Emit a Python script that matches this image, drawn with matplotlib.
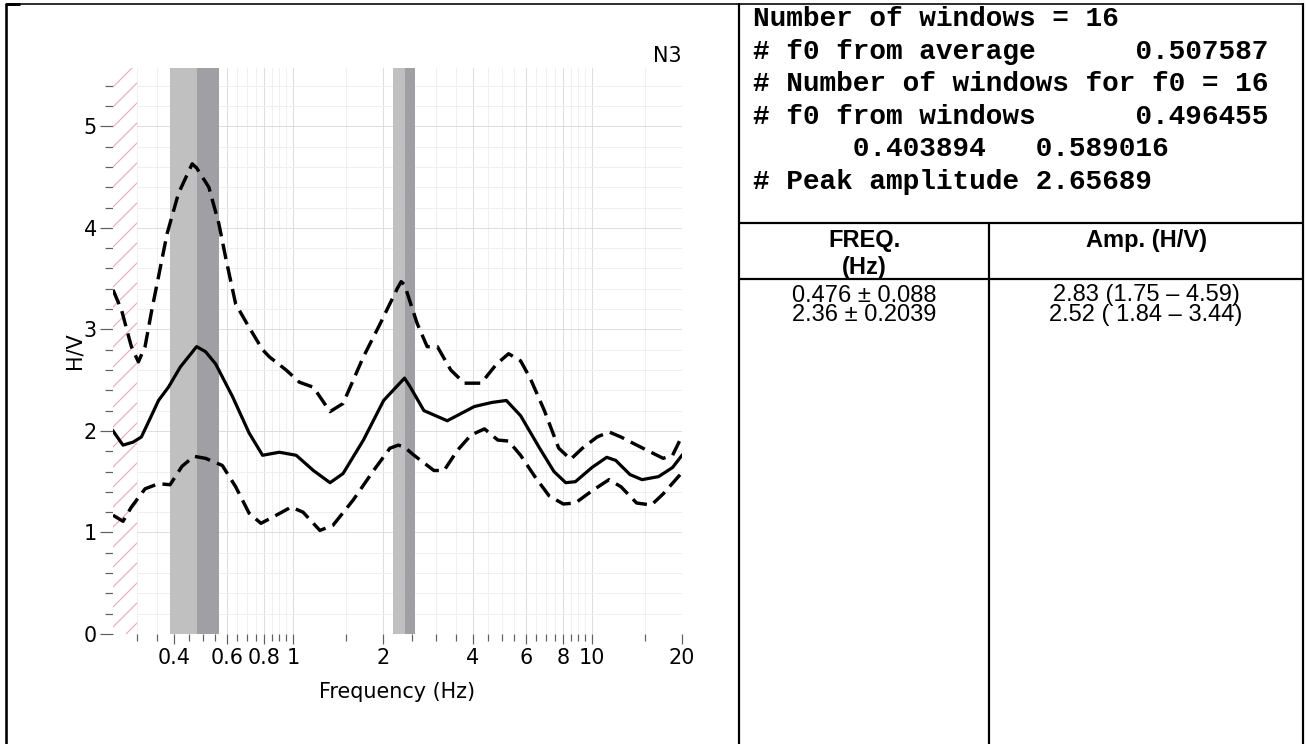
import numpy as np
import matplotlib.pyplot as plt
from matplotlib.lines import Line2D
from matplotlib.ticker import FixedLocator, FixedFormatter, NullFormatter, MultipleLocator

# ---------------------------------------------------------------------------
# H/V curve (mean and +/- one standard deviation), station N3
freq_mean = [0.25, 0.27, 0.292, 0.311, 0.33, 0.355, 0.383, 0.42, 0.476, 0.51,
             0.551, 0.627, 0.713, 0.791, 0.9, 1.025, 1.17, 1.33, 1.47, 1.72,
             2.01, 2.36, 2.47, 2.74, 3.28, 4.04, 4.62, 5.17, 5.77, 6.68,
             7.46, 8.17, 8.8, 10.0, 11.2, 12.0, 13.4, 14.7, 16.7, 18.6, 20.0]
hv_mean = [2.00, 1.86, 1.89, 1.94, 2.10, 2.30, 2.43, 2.63, 2.83, 2.78,
           2.66, 2.34, 1.98, 1.76, 1.79, 1.76, 1.61, 1.49, 1.58, 1.91,
           2.30, 2.52, 2.43, 2.20, 2.10, 2.24, 2.28, 2.30, 2.15, 1.83,
           1.60, 1.49, 1.50, 1.64, 1.74, 1.71, 1.57, 1.52, 1.55, 1.64, 1.76]

freq_upper = [0.25, 0.267, 0.288, 0.304, 0.32, 0.337, 0.355, 0.379, 0.414, 0.46,
              0.476, 0.523, 0.565, 0.595, 0.643, 0.713, 0.791, 0.833, 0.948, 1.05,
              1.17, 1.33, 1.47, 1.72, 1.96, 2.23, 2.30, 2.36, 2.60, 2.81,
              3.04, 3.37, 3.74, 4.26, 4.80, 5.26, 5.77, 6.21, 6.93, 7.74,
              8.48, 9.29, 10.4, 11.4, 12.5, 13.9, 15.5, 17.3, 18.6, 20.0]
hv_upper = [3.39, 3.19, 2.83, 2.68, 2.83, 3.19, 3.52, 3.94, 4.34, 4.63,
            4.59, 4.40, 4.04, 3.71, 3.25, 3.02, 2.80, 2.73, 2.60, 2.48,
            2.43, 2.19, 2.27, 2.73, 3.06, 3.40, 3.47, 3.44, 3.06, 2.83,
            2.83, 2.60, 2.47, 2.47, 2.66, 2.76, 2.69, 2.52, 2.20, 1.83,
            1.72, 1.83, 1.94, 1.99, 1.94, 1.87, 1.80, 1.73, 1.76, 1.95]

freq_lower = [0.25, 0.27, 0.288, 0.32, 0.355, 0.388, 0.425, 0.466, 0.51, 0.58,
              0.643, 0.713, 0.781, 0.855, 0.986, 1.08, 1.23, 1.36, 1.59, 1.86,
              2.11, 2.25, 2.36, 2.54, 2.96, 3.20, 3.55, 3.94, 4.37, 4.84,
              5.26, 5.77, 6.44, 7.19, 8.02, 8.8, 10.0, 11.4, 12.5, 14.1,
              15.8, 17.3, 20.0]
hv_lower = [1.17, 1.11, 1.25, 1.43, 1.48, 1.47, 1.65, 1.75, 1.73, 1.66,
            1.45, 1.19, 1.09, 1.15, 1.25, 1.20, 1.02, 1.07, 1.32, 1.61,
            1.83, 1.86, 1.84, 1.76, 1.61, 1.61, 1.81, 1.96, 2.02, 1.91,
            1.90, 1.76, 1.55, 1.36, 1.28, 1.29, 1.41, 1.52, 1.45, 1.29,
            1.27, 1.38, 1.59]

# peaks picked from the curve: f0 +/- sigma and amplitude (min - max)
peak_freq = [0.476, 2.36]
peak_std = [0.088, 0.2039]
peak_freq_txt = ["0.476 \u00b1 0.088", "2.36 \u00b1 0.2039"]
peak_amp_txt = ["2.83 (1.75 \u2013 4.59)", "2.52 ( 1.84 \u2013 3.44)"]

# low frequency limit of the valid window (hatched)
f_min_valid = 0.3

x_major = [0.4, 0.6, 0.8, 1, 2, 4, 6, 8, 10, 20]
x_major_lbl = ["0.4", "0.6", "0.8", "1", "2", "4", "6", "8", "10", "20"]
x_minor = [0.3, 0.35, 0.45, 0.5, 0.55, 0.65, 0.7, 0.75, 0.85, 0.9, 0.95,
           1.5, 2.5, 3, 3.5, 4.5, 5, 5.5, 6.5, 7, 7.5, 8.5, 9, 9.5, 15]

info_lines = ["Number of windows = 16",
              "# f0 from average      0.507587",
              "# Number of windows for f0 = 16",
              "# f0 from windows      0.496455",
              "      0.403894   0.589016",
              "# Peak amplitude 2.65689"]

# ---------------------------------------------------------------------------
DPI = 120
W, H = 1306, 744
PT = 72 / DPI          # points per pixel


def fx(x):
    return x / W


def fy(y):
    return 1 - y / H


fig = plt.figure(figsize=(W / DPI, H / DPI), dpi=DPI)
fig.patch.set_facecolor('white')

ax = fig.add_axes([fx(113), fy(634), (682 - 113) / W, (634 - 68.4) / H])
ax.set_xscale('log')
ax.set_xlim(0.25, 20)
ax.set_ylim(0, 5.57)

for s in ax.spines.values():
    s.set_visible(False)

# f0 +/- sigma bands
for f0, sd in zip(peak_freq, peak_std):
    ax.axvspan(f0 - sd, f0, color='#c0c0c0', lw=0, zorder=2)
    ax.axvspan(f0, f0 + sd, color='#a0a0a4', lw=0, zorder=2)

# hatched area below the lowest valid frequency (hides the grid)
plt.rcParams['hatch.linewidth'] = 1.1 * PT
y0, y1 = ax.get_ylim()
ax.fill_betweenx([y0, y1], 0.25, f_min_valid, facecolor='white',
                 edgecolor='#e9a9b6', hatch='//', lw=0, zorder=1)

ax.plot(freq_mean, hv_mean, color='k', lw=3.2 * PT, zorder=5)
ax.plot(freq_upper, hv_upper, color='k', lw=3.4 * PT, ls=(0, (4.6, 2.2)),
        dash_capstyle='butt', zorder=5)
ax.plot(freq_lower, hv_lower, color='k', lw=3.4 * PT, ls=(0, (4.6, 2.2)),
        dash_capstyle='butt', zorder=5)

# axes ticks and grid
ax.xaxis.set_major_locator(FixedLocator(x_major))
ax.xaxis.set_major_formatter(FixedFormatter(x_major_lbl))
ax.xaxis.set_minor_locator(FixedLocator(x_minor))
ax.xaxis.set_minor_formatter(NullFormatter())
ax.yaxis.set_major_locator(MultipleLocator(1))
ax.yaxis.set_minor_locator(MultipleLocator(0.2))

ax.set_axisbelow(True)
ax.grid(which='major', color='#dedede', lw=1.0 * PT)
ax.grid(which='minor', color='#efefef', lw=1.0 * PT)

lab_fs = 20.8 * PT
ax.tick_params(axis='x', which='major', length=10 * PT, width=1.2 * PT,
               color='#606060', labelsize=lab_fs, pad=4 * PT)
ax.tick_params(axis='x', which='minor', length=7 * PT, width=1.2 * PT,
               color='#606060')
ax.tick_params(axis='y', which='major', length=13 * PT, width=1.2 * PT,
               color='#606060', labelsize=lab_fs, pad=3 * PT)
ax.tick_params(axis='y', which='minor', length=8 * PT, width=1.2 * PT,
               color='#606060')

fig.text(fx(75), fy(351), 'H/V', rotation=90, ha='center', va='center',
         fontsize=lab_fs)
fig.text(fx(397.5), fy(692), 'Frequency (Hz)', ha='center', va='center',
         fontsize=lab_fs)
fig.text(fx(682), fy(56), 'N3', ha='right', va='center', fontsize=lab_fs)

# ---------------------------------------------------------------------------
# summary panel on the right
mono = dict(family=['Liberation Mono', 'DejaVu Sans Mono'], weight='bold',
            fontsize=27.8 * PT)
for i, line in enumerate(info_lines):
    fig.text(fx(753), fy(26 + 32.6 * i), line, ha='left', va='baseline', **mono)

sans = dict(family=['Liberation Sans', 'DejaVu Sans'], fontsize=23.6 * PT)
col1, col2 = 864, 1146
fig.text(fx(col1), fy(246.5), 'FREQ.', ha='center', va='baseline',
         weight='bold', **sans)
fig.text(fx(col1), fy(273.5), '(Hz)', ha='center', va='baseline',
         weight='bold', **sans)
fig.text(fx(col2), fy(246.5), 'Amp. (H/V)', ha='center', va='baseline',
         weight='bold', **sans)
for i, (ft, at) in enumerate(zip(peak_freq_txt, peak_amp_txt)):
    fig.text(fx(col1), fy(301.5 + 19.5 * i), ft, ha='center', va='baseline', **sans)
    fig.text(fx(col2), fy(301.5 + 19.5 * i), at, ha='center', va='baseline', **sans)


# frame lines
def rule(x0, y0, x1, y1, w):
    fig.add_artist(Line2D([fx(x0), fx(x1)], [fy(y0), fy(y1)], color='k',
                          lw=w * PT, solid_capstyle='butt',
                          transform=fig.transFigure))


rule(6, 3, 6, 744, 2.6)
rule(6, 3.5, 1304, 3.5, 1.6)
rule(6, 4, 20, 4, 3)
rule(1303, 3, 1303, 744, 2.2)
rule(738.5, 3, 738.5, 744, 2.2)
rule(738.5, 223.3, 1303, 223.3, 2.2)
rule(738.5, 279.3, 1303, 279.3, 2.2)
rule(989.3, 223.3, 989.3, 744, 2.2)

fig.savefig('out.png', dpi=DPI, facecolor='white')
